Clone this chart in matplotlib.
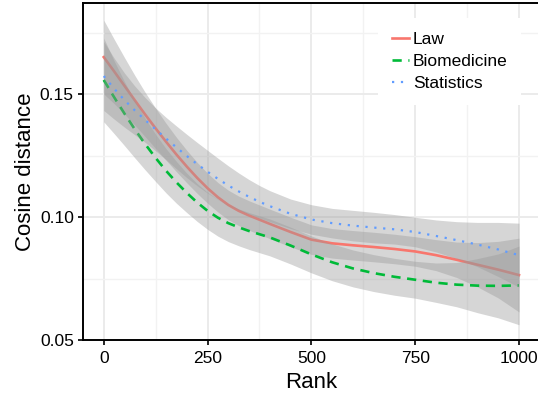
import numpy as np
import matplotlib.pyplot as plt
from matplotlib.ticker import MultipleLocator

plt.rcParams["font.family"] = ["Liberation Sans", "DejaVu Sans"]

# loess curves (denser where the curves bend)
rank = [0, 25, 50, 75, 100, 125, 150, 175, 200, 225, 250, 275, 300, 325, 350, 375, 400,
        450, 500, 550, 600, 650, 700, 750, 800, 850, 900, 950, 1000]

law = [0.1650, 0.1592, 0.1533, 0.1474, 0.1416, 0.1360, 0.1306, 0.1254, 0.1205, 0.1159,
       0.1117, 0.1080, 0.1049, 0.1025, 0.1006, 0.0989, 0.0972,
       0.0939, 0.0908, 0.0893, 0.0885, 0.0878, 0.0870, 0.0860, 0.0845, 0.0826, 0.0806, 0.0786, 0.0764]
law_se = [0.0150, 0.0131, 0.0115, 0.0101, 0.0090, 0.0082, 0.0075, 0.0070, 0.0066, 0.0063,
          0.0061, 0.0060, 0.0060, 0.0060, 0.0060, 0.0060, 0.0060,
          0.0060, 0.0060, 0.0060, 0.0060, 0.0060, 0.0060, 0.0060, 0.0063, 0.0072, 0.0090, 0.0115, 0.0150]

biomed = [0.1557, 0.1487, 0.1420, 0.1356, 0.1296, 0.1240, 0.1188, 0.1141, 0.1098, 0.1059,
          0.1025, 0.0997, 0.0975, 0.0958, 0.0943, 0.0930, 0.0917,
          0.0884, 0.0848, 0.0816, 0.0791, 0.0772, 0.0757, 0.0745, 0.0733, 0.0725, 0.0721, 0.0720, 0.0722]
biomed_se = [0.0170, 0.0148, 0.0130, 0.0116, 0.0105, 0.0096, 0.0090, 0.0085, 0.0080, 0.0077,
             0.0075, 0.0075, 0.0075, 0.0075, 0.0075, 0.0075, 0.0075,
             0.0075, 0.0075, 0.0075, 0.0075, 0.0075, 0.0075, 0.0075, 0.0080, 0.0090, 0.0110, 0.0130, 0.0160]

stats = [0.1573, 0.1522, 0.1475, 0.1433, 0.1394, 0.1356, 0.1319, 0.1283, 0.1248, 0.1215,
         0.1184, 0.1155, 0.1128, 0.1104, 0.1082, 0.1062, 0.1044,
         0.1013, 0.0990, 0.0975, 0.0965, 0.0957, 0.0950, 0.0939, 0.0923, 0.0906, 0.0888, 0.0868, 0.0845]
stats_se = [0.0140, 0.0124, 0.0110, 0.0099, 0.0091, 0.0087, 0.0086, 0.0087, 0.0088, 0.0088,
            0.0087, 0.0084, 0.0080, 0.0075, 0.0070, 0.0066, 0.0063,
            0.0060, 0.0060, 0.0060, 0.0062, 0.0062, 0.0060, 0.0060, 0.0065, 0.0075, 0.0090, 0.0110, 0.0130]

series = [
    ("Law", law, law_se, "#F8766D", "-", 1.9),
    ("Biomedicine", biomed, biomed_se, "#00BA38", (0, (3.5, 2.5)), 1.9),
    ("Statistics", stats, stats_se, "#619CFF", (0, (1, 3)), 1.6),
]

fig = plt.figure(figsize=(5.38, 3.95), dpi=100)
ax = fig.add_axes([83 / 538, 55 / 395, 456.75 / 538, 337 / 395])

x = np.array(rank)
z = 2
# ribbon then line for each group, like geom_smooth
for name, y, se, col, ls, lw in series:
    y = np.array(y)
    se = np.array(se)
    ax.fill_between(x, y - se, y + se, color="#999999", alpha=0.4, lw=0, zorder=z)
    ax.plot(x, y, color=col, ls=ls, lw=lw, label=name, zorder=z + 1)
    z += 2

ax.set_xlim(-50, 1050)
ax.set_ylim(0.05, 0.187)
ax.set_xticks([0, 250, 500, 750, 1000])
ax.set_yticks([0.05, 0.10, 0.15])
ax.set_yticklabels(["0.05", "0.10", "0.15"])
ax.xaxis.set_minor_locator(MultipleLocator(125))
ax.yaxis.set_minor_locator(MultipleLocator(0.025))

ax.set_axisbelow(True)
ax.grid(which="major", color="#ebebeb", lw=1.4)
ax.grid(which="minor", color="#f2f2f2", lw=1.0)
ax.tick_params(which="minor", length=0)
ax.tick_params(which="major", length=3.6, width=1.2, labelsize=12.5, colors="black")
ax.tick_params(axis="x", pad=4)
ax.tick_params(axis="y", pad=3)

for s in ["left", "bottom", "top"]:
    ax.spines[s].set_linewidth(1.4)
    ax.spines[s].set_color("black")
ax.spines["right"].set_visible(False)

ax.set_xlabel("Rank", fontsize=16)
ax.set_ylabel("Cosine distance", fontsize=16)
ax.yaxis.set_label_coords(-0.102, 0.5)
ax.xaxis.set_label_coords(0.5, -0.095)

ax.legend(loc="upper left", bbox_to_anchor=(378 / 538, 1 - 18 / 395),
          bbox_transform=fig.transFigure, fontsize=12.5, frameon=True,
          fancybox=False, facecolor="white", edgecolor="none", framealpha=1,
          borderpad=0.8, borderaxespad=0, handlelength=1.0, handletextpad=0.2,
          labelspacing=0.385)

fig.savefig("out.png", dpi=100)
